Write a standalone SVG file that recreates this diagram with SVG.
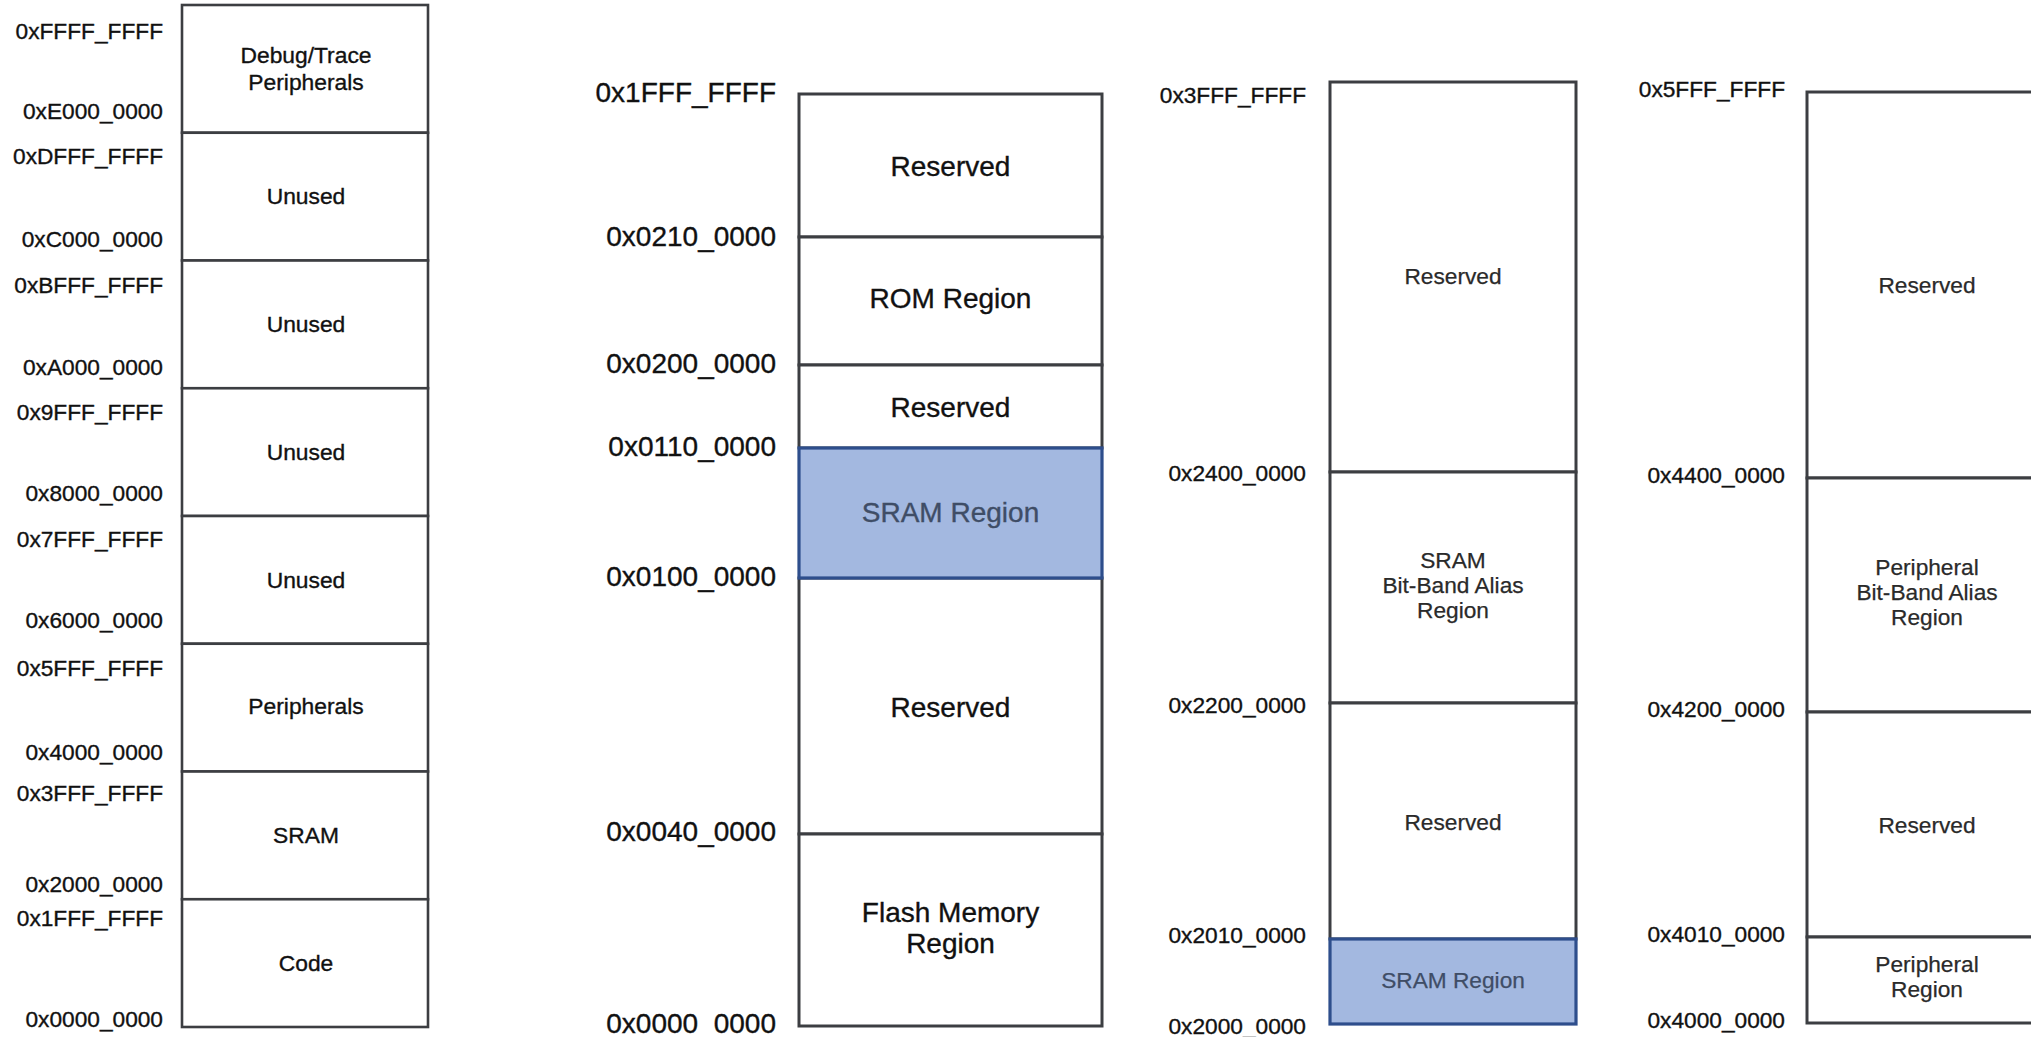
<svg xmlns="http://www.w3.org/2000/svg" width="2031" height="1037" viewBox="0 0 2031 1037">
<style>
  text { font-family: "Liberation Sans", Arial, sans-serif; fill: #111; stroke: #111; stroke-width: 0.35; }
  .a22 { font-size: 22.7px; text-anchor: end; }
  .a28 { font-size: 28px; text-anchor: end; }
  .t22 { font-size: 22.8px; text-anchor: middle; }
  .t21 { font-size: 22.7px; text-anchor: middle; fill: #2a2a2a; stroke: #2a2a2a; stroke-width: 0.25; }
  .t28 { font-size: 28px; text-anchor: middle; }
  .cell { fill: #ffffff; stroke: #3c3e42; stroke-width: 2.6; }
  .cell3 { fill: #ffffff; stroke: #3c3e42; stroke-width: 3; }
  .sram { fill: #A3B8E0; stroke: #2E4E8C; stroke-width: 3.2; }
  .stxt { fill: #3F4D66; stroke: #3F4D66; }
</style>
<rect x="0" y="0" width="2031" height="1037" fill="#ffffff"/>

<!-- Column 1: full 4GB map -->
<g id="col1">
  <g id="c1-debug">
    <rect class="cell" x="182" y="5" width="246" height="127.75"/>
    <text class="a22" x="163" y="39">0xFFFF_FFFF</text>
    <text class="a22" x="163" y="119">0xE000_0000</text>
    <text class="t22" x="306" y="63">Debug/Trace</text>
    <text class="t22" x="306" y="90">Peripherals</text>
  </g>
  <g id="c1-unused1">
    <rect class="cell" x="182" y="132.75" width="246" height="127.75"/>
    <text class="a22" x="163" y="163.5">0xDFFF_FFFF</text>
    <text class="a22" x="163" y="247">0xC000_0000</text>
    <text class="t22" x="306" y="204">Unused</text>
  </g>
  <g id="c1-unused2">
    <rect class="cell" x="182" y="260.5" width="246" height="127.75"/>
    <text class="a22" x="163" y="293">0xBFFF_FFFF</text>
    <text class="a22" x="163" y="375">0xA000_0000</text>
    <text class="t22" x="306" y="332">Unused</text>
  </g>
  <g id="c1-unused3">
    <rect class="cell" x="182" y="388.25" width="246" height="127.75"/>
    <text class="a22" x="163" y="419.5">0x9FFF_FFFF</text>
    <text class="a22" x="163" y="501">0x8000_0000</text>
    <text class="t22" x="306" y="460">Unused</text>
  </g>
  <g id="c1-unused4">
    <rect class="cell" x="182" y="516" width="246" height="127.75"/>
    <text class="a22" x="163" y="546.5">0x7FFF_FFFF</text>
    <text class="a22" x="163" y="628">0x6000_0000</text>
    <text class="t22" x="306" y="588">Unused</text>
  </g>
  <g id="c1-periph">
    <rect class="cell" x="182" y="643.75" width="246" height="127.75"/>
    <text class="a22" x="163" y="675.5">0x5FFF_FFFF</text>
    <text class="a22" x="163" y="760">0x4000_0000</text>
    <text class="t22" x="306" y="714">Peripherals</text>
  </g>
  <g id="c1-sram">
    <rect class="cell" x="182" y="771.5" width="246" height="127.75"/>
    <text class="a22" x="163" y="801">0x3FFF_FFFF</text>
    <text class="a22" x="163" y="892">0x2000_0000</text>
    <text class="t22" x="306" y="843">SRAM</text>
  </g>
  <g id="c1-code">
    <rect class="cell" x="182" y="899.25" width="246" height="127.75"/>
    <text class="a22" x="163" y="925.5">0x1FFF_FFFF</text>
    <text class="a22" x="163" y="1027">0x0000_0000</text>
    <text class="t22" x="306" y="971">Code</text>
  </g>
</g>

<!-- Column 2: code region -->
<g id="col2">
  <g id="c2-reserved1">
    <rect class="cell3" x="799" y="94" width="303" height="143"/>
    <text class="a28" x="776" y="102">0x1FFF_FFFF</text>
    <text class="t28" x="950.5" y="176">Reserved</text>
  </g>
  <g id="c2-rom">
    <rect class="cell3" x="799" y="237" width="303" height="128"/>
    <text class="a28" x="776" y="246">0x0210_0000</text>
    <text class="t28" x="950.5" y="308">ROM Region</text>
  </g>
  <g id="c2-reserved2">
    <rect class="cell3" x="799" y="365" width="303" height="83"/>
    <text class="a28" x="776" y="373">0x0200_0000</text>
    <text class="t28" x="950.5" y="417">Reserved</text>
  </g>
  <g id="c2-reserved3">
    <rect class="cell3" x="799" y="578" width="303" height="256"/>
    <text class="t28" x="950.5" y="717">Reserved</text>
  </g>
  <g id="c2-sram">
    <rect class="sram" x="799" y="448" width="303" height="130"/>
    <text class="a28" x="776" y="456">0x0110_0000</text>
    <text class="t28 stxt" x="950.5" y="522">SRAM Region</text>
  </g>
  <g id="c2-flash">
    <rect class="cell3" x="799" y="834" width="303" height="192"/>
    <text class="a28" x="776" y="586">0x0100_0000</text>
    <text class="a28" x="776" y="841">0x0040_0000</text>
    <text class="a28" x="776" y="1033">0x0000_0000</text>
    <text class="t28" x="950.5" y="922">Flash Memory</text>
    <text class="t28" x="950.5" y="953">Region</text>
  </g>
</g>

<!-- Column 3: SRAM area -->
<g id="col3">
  <g id="c3-reserved1">
    <rect class="cell3" x="1330" y="82" width="246" height="390"/>
    <text class="a22" x="1306" y="103">0x3FFF_FFFF</text>
    <text class="t21" x="1453" y="284">Reserved</text>
  </g>
  <g id="c3-alias">
    <rect class="cell3" x="1330" y="472" width="246" height="231"/>
    <text class="a22" x="1306" y="481">0x2400_0000</text>
    <text class="t21" x="1453" y="568">SRAM</text>
    <text class="t21" x="1453" y="593">Bit-Band Alias</text>
    <text class="t21" x="1453" y="618">Region</text>
  </g>
  <g id="c3-reserved2">
    <rect class="cell3" x="1330" y="703" width="246" height="236"/>
    <text class="a22" x="1306" y="713">0x2200_0000</text>
    <text class="t21" x="1453" y="830">Reserved</text>
  </g>
  <g id="c3-sram">
    <rect class="sram" x="1330" y="939" width="246" height="85"/>
    <text class="a22" x="1306" y="943">0x2010_0000</text>
    <text class="a22" x="1306" y="1034">0x2000_0000</text>
    <text class="t21 stxt" x="1453" y="988">SRAM Region</text>
  </g>
</g>

<!-- Column 4: peripheral area -->
<g id="col4">
  <g id="c4-reserved1">
    <rect class="cell3" x="1807" y="92" width="260" height="386"/>
    <text class="a22" x="1785" y="97">0x5FFF_FFFF</text>
    <text class="t21" x="1927" y="293">Reserved</text>
  </g>
  <g id="c4-alias">
    <rect class="cell3" x="1807" y="478" width="260" height="234"/>
    <text class="a22" x="1785" y="483">0x4400_0000</text>
    <text class="t21" x="1927" y="575">Peripheral</text>
    <text class="t21" x="1927" y="600">Bit-Band Alias</text>
    <text class="t21" x="1927" y="625">Region</text>
  </g>
  <g id="c4-reserved2">
    <rect class="cell3" x="1807" y="712" width="260" height="225"/>
    <text class="a22" x="1785" y="717">0x4200_0000</text>
    <text class="t21" x="1927" y="833">Reserved</text>
  </g>
  <g id="c4-periph">
    <rect class="cell3" x="1807" y="937" width="260" height="86"/>
    <text class="a22" x="1785" y="942">0x4010_0000</text>
    <text class="a22" x="1785" y="1028">0x4000_0000</text>
    <text class="t21" x="1927" y="972">Peripheral</text>
    <text class="t21" x="1927" y="997">Region</text>
  </g>
</g>

<g id="connectors"></g>
</svg>
